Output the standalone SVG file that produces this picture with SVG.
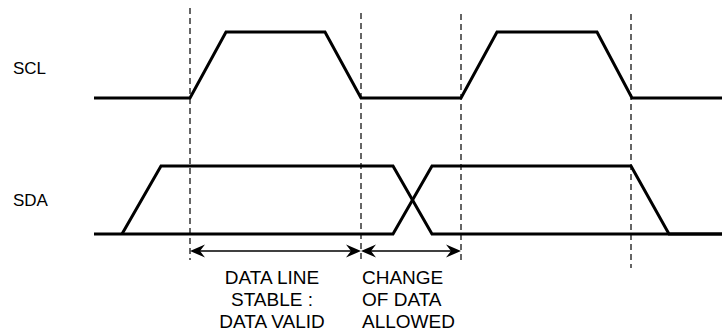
<svg xmlns="http://www.w3.org/2000/svg" width="722" height="330" viewBox="0 0 722 330">
<style>
.sig{fill:none;stroke:#000;stroke-width:3;stroke-linejoin:miter}
.dash{fill:none;stroke:#000;stroke-width:1.2;stroke-dasharray:6,4}
.dim{fill:none;stroke:#000;stroke-width:1.3}
.head{fill:#000;stroke:none}
text{font-family:"Liberation Sans",Arial,sans-serif;fill:#000}
.lbl{font-size:17px}
.note{font-size:19px}
</style>
<rect width="722" height="330" fill="#fff"/>
<g id="guides">
<line class="dash" x1="190" y1="8" x2="190" y2="260"/>
<line class="dash" x1="361" y1="13" x2="361" y2="260"/>
<line class="dash" x1="461" y1="14" x2="461" y2="262"/>
<line class="dash" x1="631" y1="14" x2="631" y2="268"/>
</g>
<g id="scl">
<text class="lbl" x="13" y="74">SCL</text>
<polyline class="sig" points="94,98 190,98 226,32 325,32 361,98 461,98 497,32 597,32 632,98 722,98"/>
</g>
<g id="sda">
<text class="lbl" x="13" y="206">SDA</text>
<polyline class="sig" points="94,234 393,234 432,166 631,166 669,234 722,234"/>
<polyline class="sig" points="122,234 161,166 393,166 432,234 722,234"/>
</g>
<g id="connectors">
<line class="dim" x1="193" y1="251" x2="358" y2="251"/>
<line class="dim" x1="364" y1="251" x2="458" y2="251"/>
<path class="head" d="M190,251 L205,244.5 L200,251 L205,257.5 Z"/>
<path class="head" d="M361,251 L346,244.5 L351,251 L346,257.5 Z"/>
<path class="head" d="M361,251 L376,244.5 L371,251 L376,257.5 Z"/>
<path class="head" d="M461,251 L446,244.5 L451,251 L446,257.5 Z"/>
</g>
<g id="label-stable">
<text class="note" text-anchor="middle" x="272" y="284">DATA LINE</text>
<text class="note" text-anchor="middle" x="272" y="306">STABLE :</text>
<text class="note" text-anchor="middle" x="272" y="327.5">DATA VALID</text>
</g>
<g id="label-change">
<text class="note" x="362" y="284">CHANGE</text>
<text class="note" x="362" y="306">OF DATA</text>
<text class="note" x="362" y="327.5">ALLOWED</text>
</g>
</svg>
